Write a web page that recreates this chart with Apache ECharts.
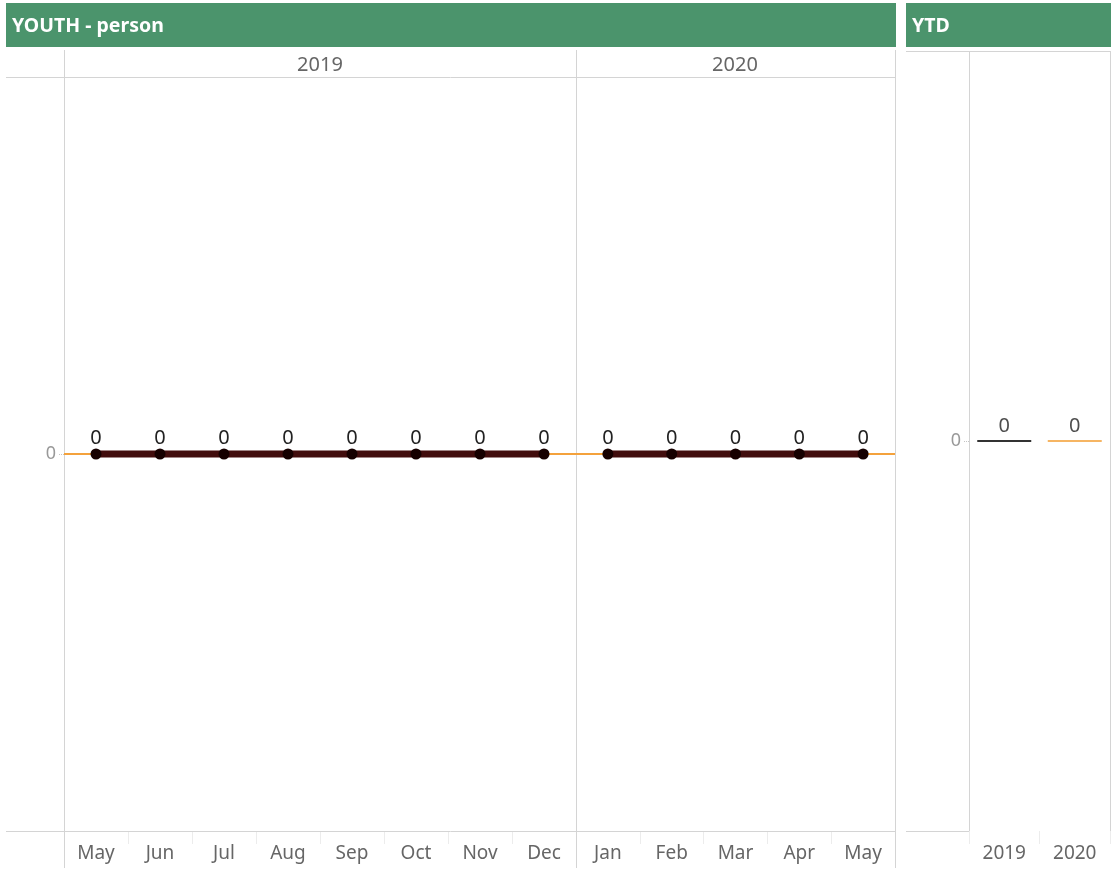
<!DOCTYPE html>
<html>
<head>
<meta charset="utf-8">
<script src="https://cdn.jsdelivr.net/npm/echarts@6/dist/echarts.min.js"></script>
<style>
html,body{margin:0;padding:0;background:#fff;}
#chart{width:1120px;height:871px;}
</style>
</head>
<body>
<div id="chart"></div>
<script>
// ---- data ----
const panelTitle = 'YOUTH - person';
const ytdTitle = 'YTD';
const years = ['2019', '2020'];
const months2019 = ['May', 'Jun', 'Jul', 'Aug', 'Sep', 'Oct', 'Nov', 'Dec'];
const values2019 = [0, 0, 0, 0, 0, 0, 0, 0];
const months2020 = ['Jan', 'Feb', 'Mar', 'Apr', 'May'];
const values2020 = [0, 0, 0, 0, 0];
const ytdYears = ['2019', '2020'];
const ytdValues = [0, 0];
const yTicks = [0];

// ---- styles ----
const FONT = '"Noto Sans", "Open Sans", sans-serif';
const GREEN = '#4b946c';
const ORANGE = '#f4a23c';
const LINE = '#d4d4d4';
const ytdColors = ['#000000', ORANGE];

const chart = echarts.init(document.getElementById('chart'), null, {renderer: 'canvas'});

function yAxisCfg(gridIndex, showLabel) {
  return {
    type: 'value', gridIndex: gridIndex, min: -1, max: 1, interval: 1,
    axisLine: {show: false},
    axisTick: {show: showLabel, length: 6, customValues: yTicks, lineStyle: {color: '#c4c4c4', type: 'dotted'}},
    axisLabel: {
      show: showLabel, color: '#999', fontSize: 18, fontFamily: FONT, margin: 8,
      formatter: v => (yTicks.indexOf(v) >= 0 ? String(v) : '')
    },
    splitLine: {show: true, showMinLine: false, showMaxLine: false, lineStyle: {color: '#b0b0b0', type: 'dotted', width: 1}}
  };
}
function xAxisCfg(gridIndex, cats) {
  return {
    type: 'category', gridIndex: gridIndex, data: cats, boundaryGap: true, position: 'bottom',
    axisLine: {show: false, onZero: false},
    axisTick: {show: true, length: 13, lineStyle: {color: '#ececec'}},
    axisLabel: {color: '#666', fontSize: 19, fontFamily: FONT, margin: 13},
    splitLine: {show: false}
  };
}
function lineSeries(idx, vals) {
  return {
    type: 'line', xAxisIndex: idx, yAxisIndex: idx, data: vals,
    symbol: 'circle', symbolSize: 11,
    itemStyle: {color: '#160000'},
    lineStyle: {color: '#420d0d', width: 7},
    label: {show: true, position: 'top', distance: 0, color: '#222', fontSize: 20, fontFamily: FONT},
    z: 5,
    markLine: {
      silent: true, symbol: 'none', label: {show: false},
      lineStyle: {color: ORANGE, width: 2, type: 'solid'},
      data: [{yAxis: 0}], z: 3
    }
  };
}

const L = (x1, y1, x2, y2) => ({type: 'line', shape: {x1, y1, x2, y2}, style: {stroke: LINE, lineWidth: 1}, silent: true, z: 1});
const headerText = (txt, x) => ({type: 'text', x: x, y: 65, style: {text: txt, fill: '#666', font: '20px ' + FONT, textAlign: 'center', textVerticalAlign: 'middle'}, silent: true, z: 2});

const option = {
  animation: false,
  grid: [
    {left: 64, top: 77, width: 512, height: 754},
    {left: 576, top: 77, width: 319, height: 754},
    {left: 969, top: 51, width: 141, height: 780}
  ],
  xAxis: [xAxisCfg(0, months2019), xAxisCfg(1, months2020), xAxisCfg(2, ytdYears)],
  yAxis: [yAxisCfg(0, true), yAxisCfg(1, false), yAxisCfg(2, true)],
  graphic: [
    {type: 'rect', shape: {x: 6, y: 3, width: 890, height: 44}, style: {fill: GREEN}, silent: true, z: 1},
    {type: 'text', x: 12, y: 26, style: {text: panelTitle, fill: '#fff', font: 'bold 19.5px ' + FONT, textVerticalAlign: 'middle'}, silent: true, z: 2},
    {type: 'rect', shape: {x: 906, y: 3, width: 205, height: 44}, style: {fill: GREEN}, silent: true, z: 1},
    {type: 'text', x: 912, y: 26, style: {text: ytdTitle, fill: '#fff', font: 'bold 19.5px ' + FONT, textVerticalAlign: 'middle'}, silent: true, z: 2},
    headerText(years[0], 320),
    headerText(years[1], 735),
    L(64.5, 50, 64.5, 868),
    L(576.5, 50, 576.5, 868),
    L(895.5, 50, 895.5, 868),
    L(6, 77.5, 895, 77.5),
    L(6, 831.5, 895, 831.5),
    L(906, 51.5, 1110, 51.5),
    L(969.5, 51, 969.5, 831),
    L(1110.5, 51, 1110.5, 831),
    L(906, 831.5, 969, 831.5)
  ],
  series: [
    lineSeries(0, values2019),
    lineSeries(1, values2020),
    {
      type: 'scatter', xAxisIndex: 2, yAxisIndex: 2,
      data: ytdValues.map((v, i) => ({value: v, itemStyle: {color: ytdColors[i]}})),
      symbol: 'rect', symbolSize: [54, 2],
      label: {show: true, position: 'top', distance: 4, color: '#222', fontSize: 20, fontFamily: FONT},
      z: 5
    }
  ]
};
chart.setOption(option);
</script>
</body>
</html>
